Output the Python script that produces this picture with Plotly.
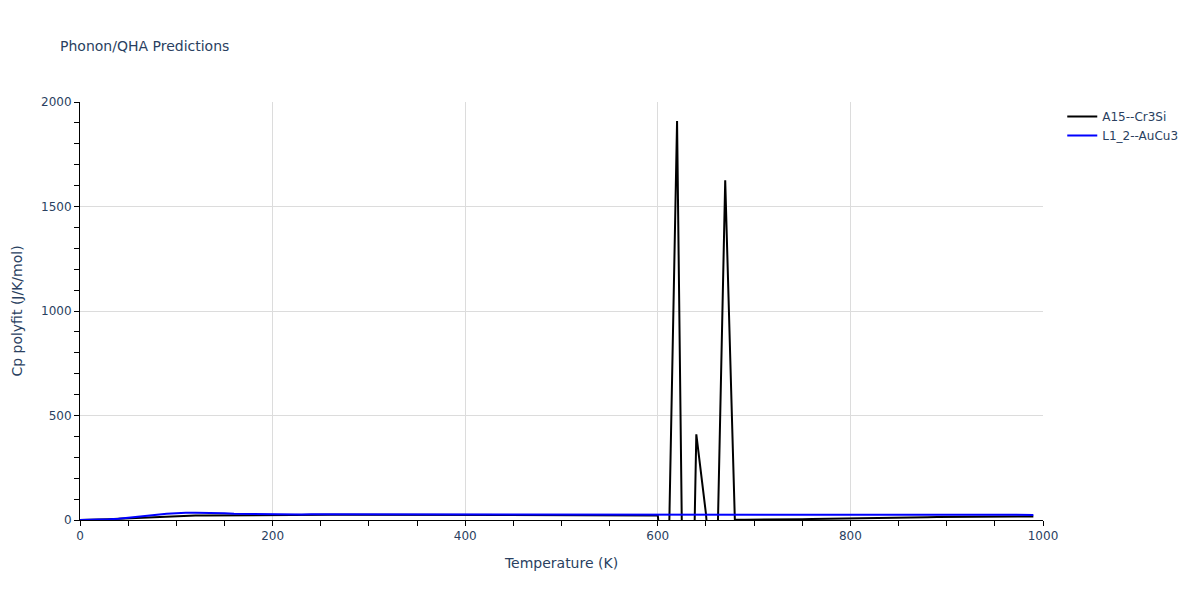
import plotly.graph_objects as go

temperature = list(range(0, 1000, 10))

cr3si_cp = [
    0, 0.5, 2, 4, 6, 8, 11, 14, 16, 18,
    19, 20, 21, 21.5, 22, 22.5, 23, 23, 23.5, 24,
    24, 24.5, 24.5, 25, 25, 25, 25, 25, 25, 25,
    25, 25, 25, 24.5, 24.5, 24.5, 24, 24, 24, 24,
    23.5, 23.5, 23.5, 23, 23, 23, 23, 22.5, 22.5, 22.5,
    22.5, 22.5, 22, 22, 22, 22, 22, 22, 22, 22,
    22, -477, 1909, -2000, 410, 30, -540, 1625, 2, 1,
    1, 1.5, 2, 2.5, 3, 4, 5, 6, 7, 8,
    9, 10, 10.5, 11, 11.5, 12, 12.5, 13, 13.5, 14,
    14.5, 15, 15, 15.5, 15.5, 16, 16, 16.5, 16.5, 17,
]

aucu3_cp = [
    0, 0.5, 1.5, 3, 6, 10, 15, 20, 25, 30,
    34, 35, 35, 35, 34, 32, 30, 29, 28, 27,
    26.5, 26.5, 26.5, 26.5, 27, 27, 27, 27.5, 27.5, 27,
    27, 26.5, 26.5, 26.5, 26, 26, 26, 26, 25.5, 25.5,
    25.5, 25.5, 25, 25, 25, 25, 25, 25, 25, 25,
    25, 25, 25, 25, 25, 25, 25, 25, 25, 25,
    24.5, 24.5, 24.5, 24.5, 24.5, 24.5, 24.5, 24.5, 24.5, 24.5,
    24.5, 24.5, 24.5, 24.5, 24.5, 24.5, 24.5, 24.5, 24.5, 24.5,
    24.5, 24.5, 24.5, 24.5, 24.5, 24.5, 24.5, 24.5, 24.5, 24.5,
    24.5, 24.5, 24.5, 24.5, 24.5, 24.5, 24.5, 24.5, 24.5, 24.5,
]

fig = go.Figure()
fig.add_trace(go.Scatter(x=temperature, y=cr3si_cp, mode="lines",
                         name="A15--Cr3Si", line=dict(color="black", width=2)))
fig.add_trace(go.Scatter(x=temperature, y=aucu3_cp, mode="lines",
                         name="L1_2--AuCu3", line=dict(color="blue", width=2)))

fig.update_layout(
    template="plotly_white",
    width=1200, height=600,
    font=dict(family="DejaVu Sans, Verdana, sans-serif", color="#2a3f5f"),
    margin=dict(l=80, r=157, t=102, b=80),
    title=dict(text="Phonon/QHA Predictions", x=0.05, font=dict(size=14)),
    legend=dict(x=1.02, y=1, font=dict(size=12)),
    xaxis=dict(
        title=dict(text="Temperature (K)"),
        range=[0, 1000], dtick=200, tick0=0,
        showline=True, linecolor="black", linewidth=1,
        ticks="outside", tickcolor="black", ticklen=5,
        gridcolor="#dcdcdc", zeroline=False,
        minor=dict(dtick=50, ticks="outside", tickcolor="black", ticklen=5, showgrid=False),
    ),
    yaxis=dict(
        title=dict(text="Cp polyfit (J/K/mol)"),
        range=[0, 2000], dtick=500, tick0=0,
        showline=True, linecolor="black", linewidth=1,
        ticks="outside", tickcolor="black", ticklen=5,
        gridcolor="#dcdcdc", zeroline=False,
        minor=dict(dtick=100, ticks="outside", tickcolor="black", ticklen=5, showgrid=False),
    ),
)

fig.write_html("out.html", config={"displayModeBar": False},
               post_script="document.body.style.margin='0';")
